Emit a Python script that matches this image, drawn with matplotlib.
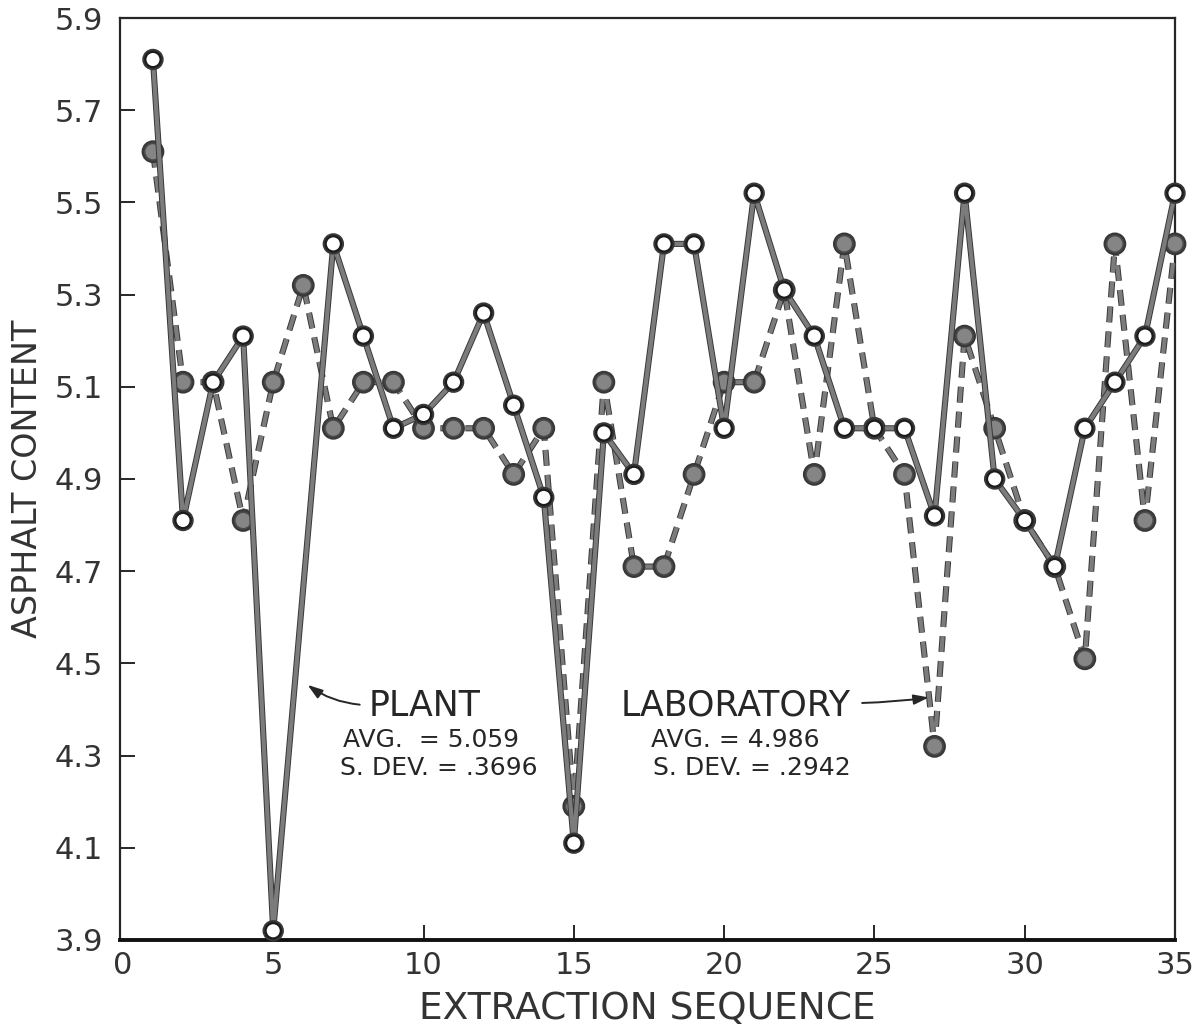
# Asphalt content by extraction sequence, plant vs laboratory

import matplotlib
matplotlib.use("Agg")
import matplotlib.pyplot as plt
import matplotlib.patheffects as pe

# plant has no value at sequence 6
plant_seq = [1, 2, 3, 4, 5, 7, 8, 9, 10, 11, 12, 13, 14, 15, 16, 17, 18, 19, 20,
             21, 22, 23, 24, 25, 26, 27, 28, 29, 30, 31, 32, 33, 34, 35]
plant_val = [5.81, 4.81, 5.11, 5.21, 3.92, 5.41, 5.21, 5.01, 5.04, 5.11, 5.26,
             5.06, 4.86, 4.11, 5.00, 4.91, 5.41, 5.41, 5.01, 5.52, 5.31, 5.21,
             5.01, 5.01, 5.01, 4.82, 5.52, 4.90, 4.81, 4.71, 5.01, 5.11, 5.21, 5.52]

lab_seq = list(range(1, 36))
lab_val = [5.61, 5.11, 5.11, 4.81, 5.11, 5.32, 5.01, 5.11, 5.11, 5.01, 5.01,
           5.01, 4.91, 5.01, 4.19, 5.11, 4.71, 4.71, 4.91, 5.11, 5.11, 5.31,
           4.91, 5.41, 5.01, 4.91, 4.32, 5.21, 5.01, 4.81, 4.71, 4.51, 5.41,
           4.81, 5.41]

yticks = [3.9, 4.1, 4.3, 4.5, 4.7, 4.9, 5.1, 5.3, 5.5, 5.7, 5.9]
xticks = [0, 5, 10, 15, 20, 25, 30, 35]

font_size = 22
gray = "#7c7c7c"
dark = "#383838"
ink = "#262626"

fig = plt.figure(figsize=(11.99, 10.35), dpi=100)
ax = fig.add_axes([0.100, 0.0918, 0.880, 0.8908])

outline = [pe.Stroke(linewidth=4.4, foreground=dark), pe.Normal()]

# laboratory: dashed line, filled dots
ax.plot(lab_seq, lab_val, color=gray, linewidth=3, linestyle=(0, (3.8, 2.2)),
        marker="o", markersize=12, markerfacecolor="#858585", markeredgecolor="#4a4a4a",
        markeredgewidth=1.2, path_effects=outline, zorder=3, clip_on=False)

# plant: solid line, open circles
ax.plot(plant_seq, plant_val, color=gray, linewidth=3, linestyle="-",
        marker="o", markersize=11, markerfacecolor="white", markeredgecolor="#1c1c1c",
        markeredgewidth=1.6, path_effects=outline, zorder=4, clip_on=False)

ax.set_xlim(-0.1, 35)
ax.set_ylim(3.9, 5.9)
ax.set_xticks(xticks)
ax.set_xticklabels([str(v) for v in xticks], fontsize=font_size)
ax.set_yticks(yticks)
ax.set_yticklabels([f"{v:.1f}" for v in yticks], fontsize=font_size)
ax.tick_params(axis="both", direction="in", length=11, width=1.4, colors=ink)
ax.tick_params(axis="x", pad=8)
ax.tick_params(axis="y", pad=12)
for lbl in ax.get_xticklabels() + ax.get_yticklabels():
    lbl.set_color("#333333")

# no tick marks where the ticks fall on the frame
xt = ax.xaxis.get_major_ticks()
yt = ax.yaxis.get_major_ticks()
for t in [xt[0], xt[-1], yt[0], yt[-1]]:
    t.tick1line.set_visible(False)

for side in ["left", "top", "right"]:
    ax.spines[side].set_linewidth(1.6)
    ax.spines[side].set_color(ink)
ax.spines["bottom"].set_linewidth(2.8)
ax.spines["bottom"].set_color("#111111")

ax.set_xlabel("EXTRACTION SEQUENCE", fontsize=27, color="#333333", labelpad=8)
ax.set_ylabel("ASPHALT CONTENT", fontsize=24, color="#333333", labelpad=8)

# annotations
ax.text(8.17, 4.408, "PLANT", fontsize=25, color=ink, va="center", ha="left")
ax.text(7.33, 4.334, "AVG.  = 5.059", fontsize=18, color=ink, va="center", ha="left")
ax.text(7.23, 4.273, "S. DEV. = .3696", fontsize=18, color=ink, va="center", ha="left")
ax.annotate("", xy=(6.07, 4.457), xytext=(7.97, 4.41),
            arrowprops=dict(arrowstyle="-|>,head_length=0.9,head_width=0.3",
                            color=ink, lw=1.4,
                            connectionstyle="arc3,rad=-0.15"))

ax.text(16.57, 4.408, "LABORATORY", fontsize=25, color=ink, va="center", ha="left")
ax.text(17.57, 4.334, "AVG. = 4.986", fontsize=18, color=ink, va="center", ha="left")
ax.text(17.63, 4.273, "S. DEV. = .2942", fontsize=18, color=ink, va="center", ha="left")
ax.annotate("", xy=(26.9, 4.427), xytext=(24.5, 4.414),
            arrowprops=dict(arrowstyle="-|>,head_length=0.9,head_width=0.3",
                            color=ink, lw=1.4,
                            connectionstyle="arc3,rad=0.03"))

plt.savefig("out.png", dpi=100)
